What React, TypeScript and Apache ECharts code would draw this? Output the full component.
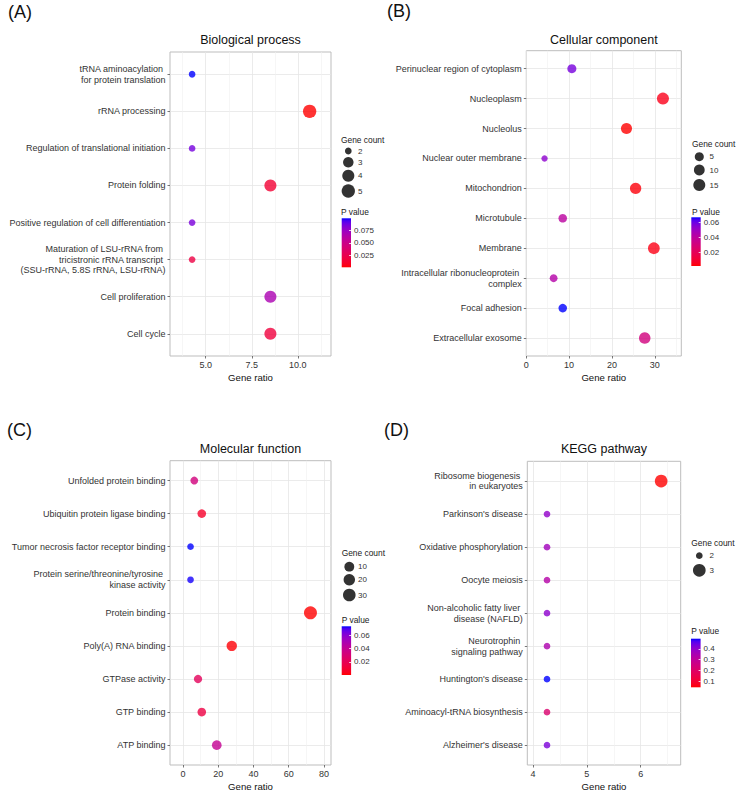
import React, { useEffect, useRef } from 'react';
import * as echarts from 'echarts';

// ---------------- Data ----------------
// (A) Biological process
const bpTerms = [
  'tRNA aminoacylation \nfor protein translation',
  'rRNA processing',
  'Regulation of translational initiation',
  'Protein folding',
  'Positive regulation of cell differentiation',
  'Maturation of LSU-rRNA from \ntricistronic rRNA transcript \n(SSU-rRNA, 5.8S rRNA, LSU-rRNA)',
  'Cell proliferation',
  'Cell cycle',
];
const bpRatio = [4.26, 10.64, 4.26, 8.51, 4.26, 4.26, 8.51, 8.51];
const bpCount = [2, 5, 2, 4, 2, 2, 4, 4];
const bpP = [0.098, 0.0023, 0.085, 0.015, 0.084, 0.021, 0.067, 0.019];
const bpXTicks = [5, 7.5, 10];
const bpXRange = [3.06, 11.8];
const bpSizeBreaks = [2, 3, 4, 5];
const bpPBreaks = [0.025, 0.05, 0.075];

// (B) Cellular component
const ccTerms = [
  'Perinuclear region of cytoplasm',
  'Nucleoplasm',
  'Nucleolus',
  'Nuclear outer membrane',
  'Mitochondrion',
  'Microtubule',
  'Membrane',
  'Intracellular ribonucleoprotein \ncomplex',
  'Focal adhesion',
  'Extracellular exosome',
];
const ccRatio = [10.64, 31.91, 23.4, 4.26, 25.53, 8.51, 29.79, 6.38, 8.51, 27.66];
const ccCount = [5, 15, 11, 2, 12, 4, 14, 3, 4, 13];
const ccP = [0.058, 0.005, 0.0017, 0.054, 0.003, 0.041, 0.0043, 0.043, 0.067, 0.031];
const ccXTicks = [0, 10, 20, 30];
const ccXRange = [0, 36.2];
const ccSizeBreaks = [5, 10, 15];
const ccPBreaks = [0.02, 0.04, 0.06];

// (C) Molecular function
const mfTerms = [
  'Unfolded protein binding',
  'Ubiquitin protein ligase binding',
  'Tumor necrosis factor receptor binding',
  'Protein serine/threonine/tyrosine \nkinase activity',
  'Protein binding',
  'Poly(A) RNA binding',
  'GTPase activity',
  'GTP binding',
  'ATP binding',
];
const mfRatio = [6.38, 10.64, 4.26, 4.26, 72.34, 27.66, 8.51, 10.64, 19.15];
const mfCount = [3, 5, 2, 2, 34, 13, 4, 5, 9];
const mfP = [0.033, 0.008, 0.073, 0.072, 0.0007, 0.0015, 0.022, 0.015, 0.04];
const mfXTicks = [0, 20, 40, 60, 80];
const mfXRange = [-7.4, 84];
const mfSizeBreaks = [10, 20, 30];
const mfPBreaks = [0.02, 0.04, 0.06];

// (D) KEGG pathway
const keggTerms = [
  'Ribosome biogenesis \nin eukaryotes',
  "Parkinson's disease",
  'Oxidative phosphorylation',
  'Oocyte meiosis',
  'Non-alcoholic fatty liver \ndisease (NAFLD)',
  'Neurotrophin \nsignaling pathway',
  "Huntington's disease",
  'Aminoacyl-tRNA biosynthesis',
  "Alzheimer's disease",
];
const keggRatio = [6.38, 4.26, 4.26, 4.26, 4.26, 4.26, 4.26, 4.26, 4.26];
const keggCount = [3, 2, 2, 2, 2, 2, 2, 2, 2];
const keggP = [0.044, 0.396, 0.369, 0.328, 0.405, 0.342, 0.495, 0.215, 0.427];
const keggXTicks = [4, 5, 6];
const keggXRange = [3.894, 6.743];
const keggSizeBreaks = [2, 3];
const keggPBreaks = [0.1, 0.2, 0.3, 0.4];

// ---------------- Colour ramp (CIELAB red -> blue, like ggplot) ----------------
const Xn = 0.95047, Yn = 1, Zn = 1.08883;
function toLin(c: number) { c /= 255; return c <= 0.04045 ? c / 12.92 : Math.pow((c + 0.055) / 1.055, 2.4); }
function toSrgb(c: number) {
  const v = c <= 0.0031308 ? 12.92 * c : 1.055 * Math.pow(Math.max(c, 0), 1 / 2.4) - 0.055;
  return Math.round(Math.min(1, Math.max(0, v)) * 255);
}
function rgbToLab(rgb: number[]) {
  const R = toLin(rgb[0]), G = toLin(rgb[1]), B = toLin(rgb[2]);
  const X = 0.4124564 * R + 0.3575761 * G + 0.1804375 * B;
  const Y = 0.2126729 * R + 0.7151522 * G + 0.072175 * B;
  const Z = 0.0193339 * R + 0.119192 * G + 0.9503041 * B;
  const f = (t: number) => (t > 216 / 24389 ? Math.cbrt(t) : ((24389 / 27) * t + 16) / 116);
  const fx = f(X / Xn), fy = f(Y / Yn), fz = f(Z / Zn);
  return [116 * fy - 16, 500 * (fx - fy), 200 * (fy - fz)];
}
function labToHex(lab: number[]) {
  const fy = (lab[0] + 16) / 116, fx = fy + lab[1] / 500, fz = fy - lab[2] / 200;
  const finv = (t: number) => (t * t * t > 216 / 24389 ? t * t * t : (116 * t - 16) / (24389 / 27));
  const X = Xn * finv(fx), Y = Yn * finv(fy), Z = Zn * finv(fz);
  const R = 3.2404542 * X - 1.5371385 * Y - 0.4985314 * Z;
  const G = -0.969266 * X + 1.8760108 * Y + 0.041556 * Z;
  const B = 0.0556434 * X - 0.2040259 * Y + 1.0572252 * Z;
  const h = (v: number) => v.toString(16).padStart(2, '0');
  return '#' + h(toSrgb(R)) + h(toSrgb(G)) + h(toSrgb(B));
}
const LAB_LOW = rgbToLab([255, 0, 0]);
const LAB_HIGH = rgbToLab([0, 0, 255]);
const RAMP: string[] = [];
for (let i = 0; i <= 20; i++) {
  const t = i / 20;
  RAMP.push(labToHex(LAB_LOW.map((v, k) => v + (LAB_HIGH[k] - v) * t)));
}

const FONT = '"Liberation Sans", Arial, Helvetica, sans-serif';

// ---------------- Layout (positions/sizes) ----------------
const panels = [
  {
    letter: '(A)', title: 'Biological process',
    terms: bpTerms, ratio: bpRatio, count: bpCount, p: bpP,
    xTicks: bpXTicks, xRange: bpXRange, sizeBreaks: bpSizeBreaks, pBreaks: bpPBreaks,
    xDigits: 1, pDigits: 3,
    grid: { left: 170, top: 52, width: 161, height: 304 },
    titlePos: [250.5, 40], letterPos: [8, 12],
    sizeTitle: [341, 140], sizeKeyX: 348.3, sizeKeysY: [151, 162.3, 175.7, 191], sizeLabelX: 358,
    pTitle: [341, 211.7], bar: { left: 341.7, top: 218.3, width: 9.3, height: 49 },
    dRange: [6.7, 13.3],
  },
  {
    letter: '(B)', title: 'Cellular component',
    terms: ccTerms, ratio: ccRatio, count: ccCount, p: ccP,
    xTicks: ccXTicks, xRange: ccXRange, sizeBreaks: ccSizeBreaks, pBreaks: ccPBreaks,
    xDigits: 0, pDigits: 2,
    grid: { left: 526.3, top: 50.7, width: 155, height: 305.3 },
    titlePos: [603.8, 39.5], letterPos: [387, 11],
    sizeTitle: [692, 144], sizeKeyX: 699.3, sizeKeysY: [156.7, 170, 185], sizeLabelX: 709.5,
    pTitle: [692, 212], bar: { left: 691.3, top: 217.3, width: 9.4, height: 48.7 },
    dRange: [6.3, 12],
  },
  {
    letter: '(C)', title: 'Molecular function',
    terms: mfTerms, ratio: mfRatio, count: mfCount, p: mfP,
    xTicks: mfXTicks, xRange: mfXRange, sizeBreaks: mfSizeBreaks, pBreaks: mfPBreaks,
    xDigits: 0, pDigits: 2,
    grid: { left: 170, top: 460.7, width: 161, height: 304.3 },
    titlePos: [250.5, 448.7], letterPos: [7, 429.5],
    sizeTitle: [341.7, 553.3], sizeKeyX: 349.3, sizeKeysY: [566.7, 579.7, 595], sizeLabelX: 358,
    pTitle: [341.7, 620.3], bar: { left: 341.7, top: 626.3, width: 9.4, height: 48.7 },
    dRange: [6.7, 13],
  },
  {
    letter: '(D)', title: 'KEGG pathway',
    terms: keggTerms, ratio: keggRatio, count: keggCount, p: keggP,
    xTicks: keggXTicks, xRange: keggXRange, sizeBreaks: keggSizeBreaks, pBreaks: keggPBreaks,
    xDigits: 0, pDigits: 1,
    grid: { left: 527.3, top: 461.3, width: 153.4, height: 303.7 },
    titlePos: [604, 448.7], letterPos: [384, 430],
    sizeTitle: [691.3, 543.3], sizeKeyX: 699.3, sizeKeysY: [555.7, 570.3], sizeLabelX: 709.5,
    pTitle: [691.3, 631.3], bar: { left: 691, top: 638.7, width: 9.6, height: 48.6 },
    dRange: [6.7, 12.7],
  },
];

function minorValues(ticks: number[], range: number[]) {
  const step = ticks[1] - ticks[0];
  const half = step / 2;
  const out: number[] = [];
  for (let v = ticks[0] - half; v >= range[0]; v -= step) out.push(v);
  for (let v = ticks[0] + half; v <= range[1] + 1e-9; v += step) out.push(v);
  return out;
}

function buildOption() {
  const grid: any[] = [];
  const xAxis: any[] = [];
  const yAxis: any[] = [];
  const series: any[] = [];
  const visualMap: any[] = [];
  const graphic: any[] = [];

  panels.forEach((pn, pi) => {
    const cMin = Math.min(...pn.count), cMax = Math.max(...pn.count);
    const pMin = Math.min(...pn.p), pMax = Math.max(...pn.p);
    const sizeFn = (c: number) =>
      pn.dRange[0] + (pn.dRange[1] - pn.dRange[0]) * Math.sqrt(Math.max(0, (c - cMin) / (cMax - cMin)));
    const n = pn.terms.length;
    const idx = pn.terms.map((_, i) => i);

    grid[pi] = {
      ...pn.grid, show: true, borderColor: '#bdbdbd', borderWidth: 1,
      backgroundColor: 'transparent', containLabel: false, outerBoundsMode: 'none',
    };
    grid[4 + pi] = {
      ...pn.bar, show: true, borderWidth: 0, containLabel: false, outerBoundsMode: 'none',
      backgroundColor: new echarts.graphic.LinearGradient(0, 0, 0, 1,
        RAMP.slice().reverse().map((c, i) => ({ offset: i / (RAMP.length - 1), color: c }))),
    };

    // main x axis (labels, ticks, major grid)
    xAxis[2 * pi] = {
      gridIndex: pi, type: 'value', position: 'bottom', min: pn.xRange[0], max: pn.xRange[1],
      name: 'Gene ratio', nameLocation: 'middle', nameGap: 16,
      nameTextStyle: { fontSize: 9.6, color: '#111', fontFamily: FONT },
      axisLine: { show: false, onZero: false },
      axisTick: { show: true, length: 2.5, lineStyle: { color: '#555', width: 0.8 }, customValues: pn.xTicks },
      axisLabel: {
        show: true, customValues: pn.xTicks, margin: 4.5, fontSize: 9, color: '#333', fontFamily: FONT,
        formatter: (v: number) => v.toFixed(pn.xDigits),
      },
      splitLine: { show: true, lineStyle: { color: '#e6e6e6', width: 0.8 } },
    };
    // minor grid x axis
    xAxis[2 * pi + 1] = {
      gridIndex: pi, type: 'value', position: 'bottom', min: pn.xRange[0], max: pn.xRange[1],
      axisLine: { show: false, onZero: false },
      axisTick: { show: false, customValues: minorValues(pn.xTicks, pn.xRange) },
      axisLabel: { show: false },
      splitLine: { show: true, lineStyle: { color: '#f0f0f0', width: 0.6 } },
    };
    xAxis[8 + pi] = { gridIndex: 4 + pi, type: 'value', show: false, min: 0, max: 1, axisLine: { onZero: false } };

    yAxis[pi] = {
      gridIndex: pi, type: 'value', position: 'left', inverse: true, min: -0.6, max: n - 1 + 0.6,
      axisLine: { show: false, onZero: false },
      axisTick: { show: true, length: 2.5, lineStyle: { color: '#555', width: 0.8 }, customValues: idx },
      axisLabel: {
        show: true, customValues: idx, margin: 4.5, fontSize: 9, lineHeight: 10.8,
        color: '#333', fontFamily: FONT, align: 'right',
        formatter: (v: number) => pn.terms[Math.round(v)],
      },
      splitLine: { show: true, lineStyle: { color: '#e6e6e6', width: 0.8 } },
    };
    yAxis[4 + pi] = {
      gridIndex: 4 + pi, type: 'value', position: 'right', min: pMin, max: pMax,
      axisLine: { show: false, onZero: false },
      axisTick: { show: true, inside: true, length: 2, lineStyle: { color: '#ffffff', width: 0.8 }, customValues: pn.pBreaks },
      axisLabel: {
        show: true, customValues: pn.pBreaks, margin: 3, fontSize: 8, color: '#333', fontFamily: FONT,
        formatter: (v: number) => v.toFixed(pn.pDigits),
      },
      splitLine: { show: false },
    };

    series.push({
      type: 'scatter', xAxisIndex: 2 * pi, yAxisIndex: pi, silent: true, z: 3,
      data: pn.terms.map((_, i) => [pn.ratio[i], i, pn.p[i], pn.count[i]]),
      symbolSize: (v: number[]) => sizeFn(v[3]),
      itemStyle: { opacity: 0.8 },
    });
    visualMap.push({
      type: 'continuous', show: false, seriesIndex: pi, dimension: 2, min: pMin, max: pMax,
      inRange: { color: RAMP },
    });

    const txt = (x: number, y: number, text: string, size: number, align: string, fill = '#1a1a1a') => ({
      type: 'text', x, y, silent: true,
      style: { text, fontSize: size, fontFamily: FONT, fill, align, verticalAlign: 'middle', textAlign: align, textVerticalAlign: 'middle' },
    });
    graphic.push(txt(pn.letterPos[0], pn.letterPos[1], pn.letter, 18, 'left', '#111'));
    graphic.push(txt(pn.titlePos[0], pn.titlePos[1], pn.title, 12.5, 'center', '#111'));
    graphic.push(txt(pn.sizeTitle[0], pn.sizeTitle[1], 'Gene count', 8.4, 'left'));
    pn.sizeBreaks.forEach((b, k) => {
      graphic.push({
        type: 'circle', silent: true,
        shape: { cx: pn.sizeKeyX, cy: pn.sizeKeysY[k], r: sizeFn(b) / 2 },
        style: { fill: '#333333' },
      });
      graphic.push(txt(pn.sizeLabelX, pn.sizeKeysY[k], String(b), 8, 'left', '#333'));
    });
    graphic.push(txt(pn.pTitle[0], pn.pTitle[1], 'P value', 8.4, 'left'));
  });

  return {
    animation: false,
    backgroundColor: '#ffffff',
    textStyle: { fontFamily: FONT },
    grid, xAxis, yAxis, series, visualMap, graphic,
  };
}

export default function App() {
  const ref = useRef<HTMLDivElement>(null);
  useEffect(() => {
    document.body.style.margin = '0';
    if (!ref.current) return;
    const chart = echarts.init(ref.current, undefined, { renderer: 'svg' });
    chart.setOption(buildOption() as any);
    return () => chart.dispose();
  }, []);
  return <div ref={ref} style={{ width: 742, height: 795 }} />;
}
